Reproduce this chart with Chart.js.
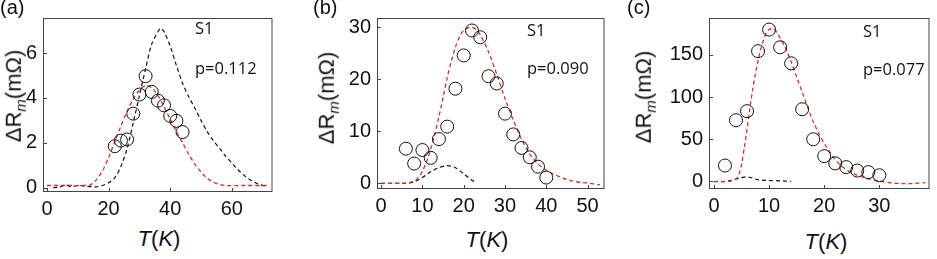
<!DOCTYPE html>
<html>
<head>
<meta charset="utf-8">
<script src="https://cdn.jsdelivr.net/npm/chart.js@4.4.0/dist/chart.umd.min.js"></script>
<style>
  body { margin: 0; background: #fff; width: 937px; height: 259px; position: relative; overflow: hidden; }
  .panel { position: absolute; top: 0; }
  .txt { position: absolute; font-family: "Liberation Sans", Arial, sans-serif; color: #111; white-space: nowrap; }
  .lbl { font-size: 20px; }
  .note { font-family: "Open Sans", sans-serif; font-size: 16.5px; }
  .xt { font-size: 22px; transform: translate(-50%, -50%); }
  .yt { font-size: 22px; transform: translate(-50%, -50%) rotate(-90deg); }
  .yt sub { font-size: 15px; }
</style>
</head>
<body>

<div class="panel" style="left:0px"><canvas id="chartA"></canvas></div>
<div class="panel" style="left:320px"><canvas id="chartB"></canvas></div>
<div class="panel" style="left:640px"><canvas id="chartC"></canvas></div>

<div class="txt lbl" style="left:0px; top:-4px">(a)</div>
<div class="txt lbl" style="left:313px; top:-4px">(b)</div>
<div class="txt lbl" style="left:627px; top:-4px">(c)</div>

<div class="txt note" style="left:195px; top:16px">S1</div>
<div class="txt note" style="left:195px; top:56px">p=0.112</div>
<div class="txt note" style="left:527px; top:18px">S1</div>
<div class="txt note" style="left:527px; top:56px">p=0.090</div>
<div class="txt note" style="left:863px; top:19px">S1</div>
<div class="txt note" style="left:863px; top:57px">p=0.077</div>

<div class="txt yt" style="left:15px; top:96px">&Delta;R<sub><i>m</i></sub>(m&Omega;)</div>
<div class="txt yt" style="left:328px; top:98px">&Delta;R<sub><i>m</i></sub>(m&Omega;)</div>
<div class="txt yt" style="left:645px; top:97px">&Delta;R<sub><i>m</i></sub>(m&Omega;)</div>

<div class="txt xt" style="left:159px; top:239px"><i>T</i>(<i>K</i>)</div>
<div class="txt xt" style="left:487px; top:240px"><i>T</i>(<i>K</i>)</div>
<div class="txt xt" style="left:826px; top:242px"><i>T</i>(<i>K</i>)</div>

<script>
// ---- panel (a), p=0.112 ----
const aXTicks = [0, 20, 40, 60];
const aYTicks = [0, 2, 4, 6];
const aPointsT = [22, 24, 26, 28, 30, 32, 34, 36, 38, 40, 42, 44];
const aPointsR = [1.85, 2.1, 2.15, 3.3, 4.15, 4.97, 4.27, 3.88, 3.67, 3.2, 2.98, 2.48];
const aRedT = [0, 6, 12, 14, 16, 18, 20, 22, 24, 26, 28, 30, 32, 34, 36, 38, 40, 42, 44, 46, 48, 50, 52, 54, 56, 58, 64, 72];
const aRedR = [0.1, 0.1, 0.1, 0.12, 0.35, 0.75, 1.35, 2.05, 2.75, 3.4, 3.95, 4.35, 4.55, 4.45, 4.1, 3.6, 3.05, 2.5, 2.0, 1.5, 1.05, 0.7, 0.42, 0.25, 0.15, 0.1, 0.1, 0.1];
const aBlackT = [2, 4, 6, 8, 10, 12, 14, 16, 18, 20, 22, 24, 26, 28, 30, 32, 34, 36, 37, 38, 40, 42, 44, 46, 48, 50, 52, 54, 56, 58, 60, 62, 64, 66, 68, 70, 71];
const aBlackR = [0.0, 0.03, 0.12, 0.05, 0.1, 0.08, 0.05, 0.04, 0.1, 0.22, 0.45, 0.95, 1.75, 2.9, 4.1, 5.3, 6.4, 6.95, 7.1, 6.95, 6.3, 5.45, 4.65, 4.05, 3.55, 3.0, 2.5, 2.1, 1.75, 1.4, 1.1, 0.8, 0.55, 0.35, 0.2, 0.1, 0.08];

// ---- panel (b), p=0.090 ----
const bXTicks = [0, 10, 20, 30, 40, 50];
const bYTicks = [0, 10, 20, 30];
const bPointsT = [6, 8, 10, 12, 14, 16, 18, 20, 22, 24, 26, 28, 30, 32, 34, 36, 38, 40];
const bPointsR = [6.65, 3.8, 6.4, 4.9, 8.5, 10.9, 18.2, 24.6, 29.4, 28.1, 20.6, 19.2, 13.4, 9.4, 6.8, 5.0, 3.2, 1.1];
const bRedT = [0, 4, 6, 8, 9, 10, 11, 12, 13, 14, 15, 16, 17, 18, 19, 20, 21, 22, 23, 24, 26, 28, 30, 32, 34, 36, 38, 40, 42, 44, 46, 48, 50, 53];
const bRedR = [0, 0, 0.05, 0.4, 1.1, 2.3, 4.2, 6.5, 9.5, 12.8, 16.5, 20.3, 23.5, 26.2, 28.2, 29.4, 29.9, 30.0, 29.6, 28.6, 25.3, 21.0, 16.3, 12.2, 8.5, 5.6, 3.7, 2.5, 1.7, 1.0, 0.5, 0.2, 0.05, -0.3];
const bBlackT = [0, 6, 8, 10, 12, 14, 16, 18, 20, 22, 23];
const bBlackR = [0, 0, 0.3, 1.1, 2.2, 3.0, 3.4, 3.0, 1.8, 0.6, 0.1];

// ---- panel (c), p=0.077 ----
const cXTicks = [0, 10, 20, 30];
const cYTicks = [0, 50, 100, 150];
const cPointsT = [2, 4, 6, 8, 10, 12, 14, 16, 18, 20, 22, 24, 26, 28, 30];
const cPointsR = [18.9, 72.6, 83.3, 154.4, 180, 159, 140, 85.6, 50, 30, 21.5, 17, 13, 11.1, 7.4];
const cRedT = [0, 2, 3, 4, 4.5, 5, 5.5, 6, 6.5, 7, 7.5, 8, 8.5, 9, 9.5, 10, 10.5, 11, 11.5, 12, 13, 14, 15, 16, 17, 18, 19, 20, 21, 22, 23, 24, 25, 26, 28, 30, 32, 34, 36, 38.3];
const cRedR = [0, 0, 0.5, 3, 8, 20, 40, 62, 86, 108, 127, 143, 157, 168, 176, 180, 181, 180, 176, 170, 158, 142, 124, 106, 88, 71, 57, 45, 35, 26, 19, 14, 10.5, 7.5, 3, 0.5, -1.5, -2.5, -2.5, -1.5];
const cBlackT = [0, 2, 3, 4, 5, 6, 7, 8, 10, 12, 14];
const cBlackR = [0, 0, 1, 3, 4.5, 5.5, 4, 2, 1.2, 0.8, 0];

const RED = '#e82424';
const DARK = '#111111';

function pairs(xs, ys) {
    return xs.map((x, i) => ({ x: x, y: ys[i] }));
}

// frame + small inward tick marks
const framePlugin = {
    id: 'frame',
    afterDraw(chart) {
        const { ctx, chartArea: a, scales } = chart;
        ctx.save();
        ctx.strokeStyle = '#444';
        ctx.lineWidth = 1;
        ctx.strokeRect(a.left + 0.5, a.top + 0.5, a.right - a.left - 1, a.bottom - a.top - 1);
        ctx.beginPath();
        scales.x.ticks.forEach(t => {
            const px = Math.round(scales.x.getPixelForValue(t.value)) + 0.5;
            ctx.moveTo(px, a.bottom);
            ctx.lineTo(px, a.bottom - 4);
        });
        scales.y.ticks.forEach(t => {
            const py = Math.round(scales.y.getPixelForValue(t.value)) + 0.5;
            ctx.moveTo(a.left, py);
            ctx.lineTo(a.left + 4, py);
        });
        ctx.stroke();
        ctx.restore();
    }
};

function makePanel(id, cfg) {
    const canvas = document.getElementById(id);
    canvas.style.width = cfg.w + 'px';
    canvas.style.height = '222px';
    canvas.width = cfg.w;
    canvas.height = 222;
    const tickFont = { family: '"Liberation Sans", Arial, sans-serif', size: 20 };
    return new Chart(canvas, {
        type: 'scatter',
        data: {
            datasets: [
                {
                    data: pairs(cfg.pt, cfg.pr),
                    showLine: false,
                    pointStyle: 'circle',
                    pointRadius: 6.5,
                    pointBorderWidth: 1,
                    pointBorderColor: DARK,
                    pointBackgroundColor: 'rgba(0,0,0,0)'
                },
                {
                    data: pairs(cfg.rt, cfg.rr),
                    showLine: true,
                    borderColor: RED,
                    borderWidth: 1.3,
                    borderDash: [4, 3],
                    pointRadius: 0,
                    tension: 0.3
                },
                {
                    data: pairs(cfg.kt, cfg.kr),
                    showLine: true,
                    borderColor: DARK,
                    borderWidth: 1.2,
                    borderDash: [4, 3],
                    pointRadius: 0,
                    tension: 0.3
                }
            ]
        },
        options: {
            responsive: false,
            animation: false,
            layout: { padding: { top: cfg.top, right: cfg.right, left: 0, bottom: 0 } },
            plugins: { legend: { display: false }, tooltip: { enabled: false } },
            scales: {
                x: {
                    type: 'linear',
                    min: cfg.xMin,
                    max: cfg.xMax,
                    afterFit: s => { s.height = cfg.xh; },
                    afterBuildTicks: s => { s.ticks = cfg.xTicks.map(v => ({ value: v })); },
                    border: { display: false },
                    grid: { display: false, drawTicks: false },
                    ticks: { padding: 5, color: DARK, font: tickFont }
                },
                y: {
                    type: 'linear',
                    min: cfg.yMin,
                    max: cfg.yMax,
                    afterFit: s => { s.width = cfg.yw; },
                    afterBuildTicks: s => { s.ticks = cfg.yTicks.map(v => ({ value: v })); },
                    border: { display: false },
                    grid: { display: false, drawTicks: false },
                    ticks: { padding: 6, color: DARK, font: tickFont }
                }
            }
        },
        plugins: [framePlugin]
    });
}

makePanel('chartA', {
    w: 280, yw: 43, xh: 30, top: 6, right: 6,
    xMin: -1.3, xMax: 73.2, xTicks: aXTicks,
    yMin: -0.19, yMax: 7.56, yTicks: aYTicks,
    pt: aPointsT, pr: aPointsR, rt: aRedT, rr: aRedR, kt: aBlackT, kr: aBlackR
});

makePanel('chartB', {
    w: 292, yw: 57, xh: 33, top: 6, right: 6,
    xMin: -1.0, xMax: 54.1, xTicks: bXTicks,
    yMin: -1.1, yMax: 31.8, yTicks: bYTicks,
    pt: bPointsT, pr: bPointsR, rt: bRedT, rr: bRedR, kt: bBlackT, kr: bBlackR
});

makePanel('chartC', {
    w: 297, yw: 69, xh: 33, top: 7, right: 1,
    xMin: -0.9, xMax: 39.1, xTicks: cXTicks,
    yMin: -8.9, yMax: 193.7, yTicks: cYTicks,
    pt: cPointsT, pr: cPointsR, rt: cRedT, rr: cRedR, kt: cBlackT, kr: cBlackR
});
</script>
</body>
</html>
